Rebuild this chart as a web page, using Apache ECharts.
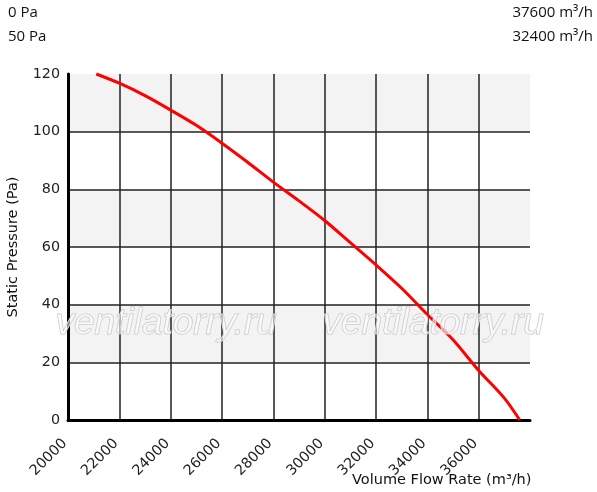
<!DOCTYPE html>
<html><head><meta charset="utf-8">
<script src="https://cdn.jsdelivr.net/npm/echarts@6/dist/echarts.min.js"></script>
<style>html,body{margin:0;padding:0;background:#fff}#c{width:597px;height:492px}</style>
</head><body><div id="c"></div>
<script>
const flow = [21100,22000,23000,24000,25000,26000,27000,28000,29000,30000,31000,32000,33000,34000,35000,36000,37000,37600];
const pressure = [120,116.8,112.5,107.5,102.2,96,89.4,82.5,76,69.2,61.5,53.8,45.7,36.6,27.8,17.2,7.6,0];
const xTicks = [20000,22000,24000,26000,28000,30000,32000,34000,36000];
const yTicks = [0,20,40,60,80,100,120];
const info = [['0 Pa','37600 m³/h'],['50 Pa','32400 m³/h']];
const xName = 'Volume Flow Rate (m³/h)';
const yName = 'Static Pressure (Pa)';

const chart = echarts.init(document.getElementById('c'), null, {renderer:'canvas'});
const graphics = [];
info.forEach((r,i)=>{
  graphics.push({type:'text', left:8, top:5+i*24, style:{text:r[0], font:'15px "Open Sans"', fill:'#111'}});
  graphics.push({type:'text', right:4, top:5+i*24, style:{text:r[1], font:'15px "Open Sans"', fill:'#111'}});
});
[[55,'ventilatorry.ru'],[322,'ventilatorry.ru']].forEach(w=>{
  graphics.push({type:'text', left:w[0], top:305, z:10, silent:true, style:{text:w[1], font:'italic 37px "Liberation Sans"', fill:'rgba(255,255,255,0.55)', stroke:'#c4c4c4', lineWidth:1}});
});
graphics.push({type:'text', left:352, top:473, style:{text:xName, font:'14.5px "DejaVu Sans"', fill:'#111'}});

chart.setOption({
  animation:false,
  graphic: graphics,
  grid:{left:68, right:67, top:74, bottom:72, containLabel:false, outerBoundsMode:'none'},
  xAxis:{type:'value', min:20000, max:38000, interval:2000,
    axisLine:{show:true, lineStyle:{color:'#000', width:3}},
    axisTick:{show:false},
    axisLabel:{rotate:45, color:'#222', fontSize:14.3, fontFamily:'DejaVu Sans', margin:18, hideOverlap:false,
      formatter:v=> xTicks.includes(v)? String(v)+' ':''},
    splitLine:{show:true, showMinLine:false, showMaxLine:false, lineStyle:{color:'#222', width:1.5}}
  },
  yAxis:{type:'value', min:0, max:120, interval:20,
    axisLine:{show:true, lineStyle:{color:'#000', width:3}},
    axisTick:{show:false},
    axisLabel:{color:'#222', fontSize:14.3, fontFamily:'DejaVu Sans', margin:8,
      formatter:v=> yTicks.includes(v)? String(v):''},
    splitLine:{show:true, showMinLine:false, showMaxLine:false, lineStyle:{color:'#222', width:1.5}},
    splitArea:{show:true, areaStyle:{color:['#ffffff','#f3f3f3']}},
    name:yName, nameLocation:'middle', nameGap:47,
    nameTextStyle:{fontSize:14.5, fontFamily:'DejaVu Sans', color:'#111'}
  },
  series:[{type:'line', data:flow.map((f,i)=>[f,pressure[i]]), smooth:0.3, symbol:'none',
    lineStyle:{color:'#ff0000', width:3}, z:5}]
});
</script></body></html>
